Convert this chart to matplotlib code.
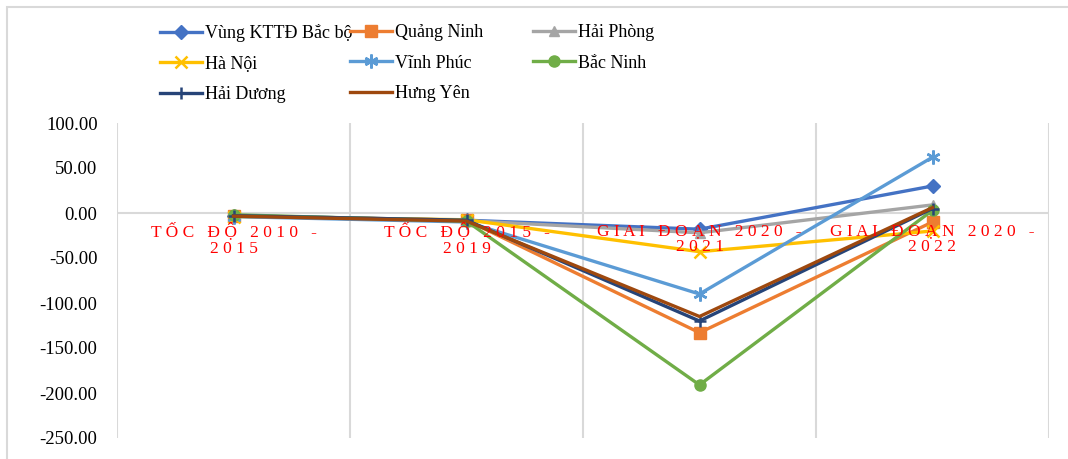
import matplotlib
matplotlib.use("Agg")
import matplotlib.pyplot as plt
from matplotlib.patches import Rectangle
from matplotlib.ticker import FuncFormatter, MultipleLocator

plt.rcParams['font.family'] = ['Liberation Serif', 'DejaVu Serif']

# nhãn trục hoành
categories = ["TỐC ĐỘ 2010 -\n2015", "TỐC ĐỘ 2015 -\n2019",
              "GIAI ĐOẠN 2020 -\n2021", "GIAI ĐOẠN 2020 -\n2022"]

# số liệu từng địa phương
vung_kttd = [-3.0, -8.0, -18.0, 30.0]
quang_ninh = [-3.5, -8.0, -133.0, -10.0]
hai_phong = [-2.5, -8.5, -22.0, 9.0]
ha_noi = [-4.0, -7.5, -43.0, -20.0]
vinh_phuc = [-4.0, -10.0, -90.0, 62.0]
bac_ninh = [-2.0, -9.0, -191.0, 3.0]
hai_duong = [-3.0, -8.0, -120.0, 5.0]
hung_yen = [-3.5, -9.0, -115.0, 6.0]

series = [
    ("Vùng KTTĐ Bắc bộ", vung_kttd, "#4472C4", "D", 7),
    ("Quảng Ninh", quang_ninh, "#ED7D31", "s", 8),
    ("Hải Phòng", hai_phong, "#A5A5A5", "^", 7),
    ("Hà Nội", ha_noi, "#FFC000", "x", 8),
    ("Vĩnh Phúc", vinh_phuc, "#5B9BD5", (6, 2, 0), 10),
    ("Bắc Ninh", bac_ninh, "#70AD47", "o", 8),
    ("Hải Dương", hai_duong, "#264478", "+", 9),
    ("Hưng Yên", hung_yen, "#9E480E", None, 0),
]


def spread(s):
    # giãn chữ cho nhãn trục hoành
    lines = []
    for line in s.split("\n"):
        words = [" ".join(list(w)) for w in line.split(" ")]
        lines.append("   ".join(words))
    return "\n".join(lines)


fig = plt.figure(figsize=(10.68, 4.59), dpi=100)
ax = fig.add_axes([117 / 1068, 21 / 459, 932 / 1068, 315 / 459])

x = list(range(len(categories)))
handles = {}
for name, vals, col, mk, ms in series:
    p, = ax.plot(x, vals, color=col, lw=2.4, marker=mk, markersize=ms,
                 markeredgewidth=1.8 if mk in ("x", "+", (6, 2, 0)) else 1,
                 label=name, zorder=3)
    handles[name] = p

ax.set_xlim(-0.5, len(categories) - 0.5)
ax.set_ylim(-250, 100)
ax.yaxis.set_major_locator(MultipleLocator(50))
ax.yaxis.set_major_formatter(FuncFormatter(lambda v, pos: "%.2f" % v))
ax.tick_params(axis='y', length=0, labelsize=13.5, pad=14)
ax.set_xticks([])
for s in ax.spines.values():
    s.set_visible(False)

# đường lưới dọc và trục 0
for gx in [i - 0.5 for i in range(len(categories) + 1)]:
    ax.axvline(gx, color="#D9D9D9", lw=1.5, zorder=1)
ax.axhline(0, color="#D9D9D9", lw=1.5, zorder=1)

for i, c in enumerate(categories):
    ax.annotate(spread(c), xy=(i, 0), xytext=(0, -7), textcoords="offset points",
                ha="center", va="top", color="red", fontsize=12.5,
                linespacing=1.05, zorder=4)

# chú giải 3 cột
cols = [["Vùng KTTĐ Bắc bộ", "Hà Nội", "Hải Dương"],
        ["Quảng Ninh", "Vĩnh Phúc", "Hưng Yên"],
        ["Hải Phòng", "Bắc Ninh"]]
col_x = [160, 350, 533]
for names, cx in zip(cols, col_x):
    fig.legend([handles[n] for n in names], names, loc="upper left",
               bbox_to_anchor=(cx / 1068, 1 - 24 / 459), frameon=False,
               fontsize=13, handlelength=2.3, handletextpad=0.2,
               labelspacing=0.75, borderpad=0, borderaxespad=0)

fig.patches.append(Rectangle((7 / 1068, -0.1), 1.1, 1 - 7 / 459 + 0.1,
                             transform=fig.transFigure, fill=False,
                             edgecolor="#D9D9D9", lw=1.5))

fig.savefig("out.png", dpi=100)
